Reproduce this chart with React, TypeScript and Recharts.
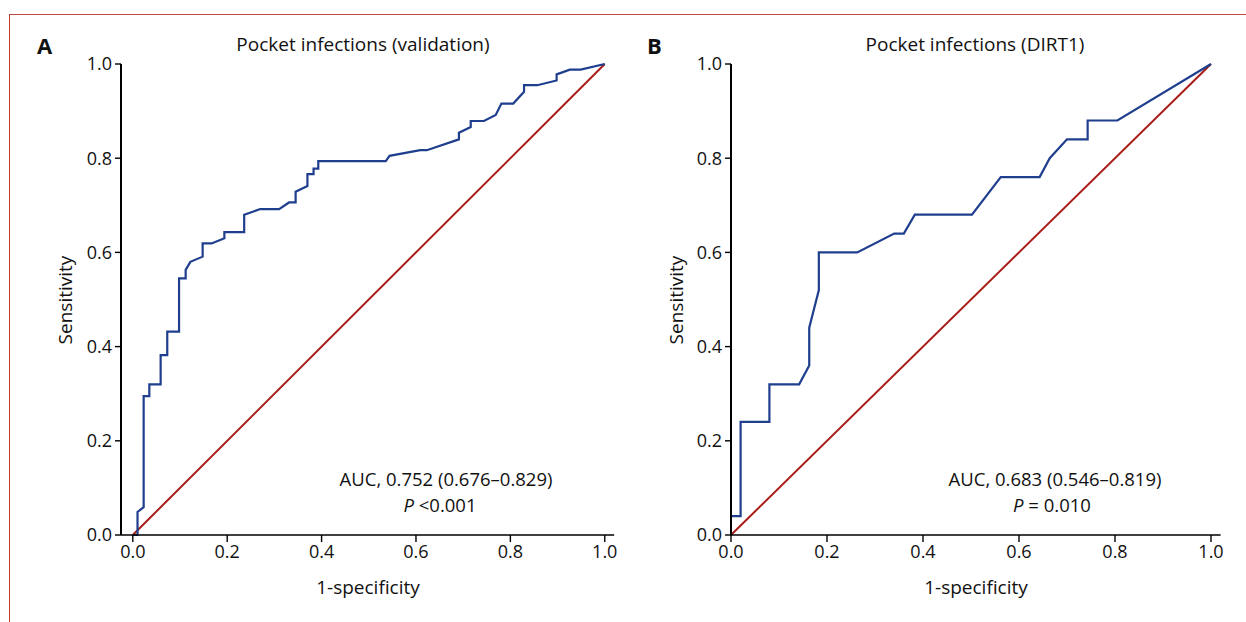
import React from 'react';
import { LineChart, Line, XAxis, YAxis } from 'recharts';

// Shared ticks
const TICKS = [0, 0.2, 0.4, 0.6, 0.8, 1.0];
const DIAG_X = [0, 1];
const DIAG_Y = [0, 1];

// Panel A: Pocket infections (validation)
const fprA = [0, 0.01, 0.01, 0.023, 0.023, 0.035, 0.035, 0.059, 0.059, 0.073, 0.073, 0.098, 0.098, 0.112, 0.112, 0.122, 0.148, 0.148, 0.167, 0.194, 0.194, 0.236, 0.236, 0.27, 0.31, 0.331, 0.345, 0.345, 0.37, 0.37, 0.383, 0.383, 0.393, 0.393, 0.536, 0.544, 0.609, 0.623, 0.691, 0.691, 0.716, 0.716, 0.744, 0.769, 0.781, 0.806, 0.829, 0.829, 0.857, 0.898, 0.898, 0.926, 0.949, 1];
const tprA = [0, 0, 0.049, 0.059, 0.295, 0.295, 0.32, 0.32, 0.382, 0.382, 0.432, 0.432, 0.545, 0.545, 0.563, 0.58, 0.591, 0.619, 0.619, 0.63, 0.643, 0.643, 0.68, 0.692, 0.692, 0.706, 0.706, 0.729, 0.741, 0.766, 0.766, 0.778, 0.778, 0.794, 0.794, 0.805, 0.817, 0.817, 0.84, 0.854, 0.866, 0.879, 0.879, 0.892, 0.916, 0.916, 0.941, 0.955, 0.955, 0.965, 0.978, 0.988, 0.988, 1];

// Panel B: Pocket infections (DIRT1)
const fprB = [0, 0.02, 0.02, 0.08, 0.08, 0.142, 0.163, 0.163, 0.183, 0.183, 0.263, 0.34, 0.36, 0.383, 0.502, 0.562, 0.643, 0.664, 0.7, 0.743, 0.743, 0.805, 1];
const tprB = [0.04, 0.04, 0.24, 0.24, 0.32, 0.32, 0.36, 0.44, 0.52, 0.6, 0.6, 0.64, 0.64, 0.68, 0.68, 0.76, 0.76, 0.8, 0.84, 0.84, 0.88, 0.88, 1];

const toRows = (xs: number[], ys: number[]) => xs.map((x, i) => ({ x, y: ys[i] }));
const rowsA = toRows(fprA, tprA);
const rowsB = toRows(fprB, tprB);
const diag = toRows(DIAG_X, DIAG_Y);

const FONT = '"Open Sans", "Noto Sans", sans-serif';
const BLUE = '#1f3f8e';
const RED = '#a91d18';

const T = ({ x, y, children, size = 18, weight = 400, rotate = 0, anchor = 'center' }: any) => (
  <div
    style={{
      position: 'absolute',
      left: x,
      top: y,
      transform: `translate(${anchor === 'center' ? '-50%' : '0'}, -50%) rotate(${rotate}deg)`,
      whiteSpace: 'nowrap',
      fontFamily: FONT,
      fontSize: size,
      fontWeight: weight,
      color: '#111',
      lineHeight: 1,
    }}
  >
    {children}
  </div>
);

const Panel = ({ left, width, plotLeft, plotRight, domain, rows }: any) => (
  <LineChart
    width={width}
    height={622}
    margin={{ top: 64, left: plotLeft - 60, right: width - plotRight, bottom: 622 - 535 - 30 }}
    style={{ position: 'absolute', left, top: 0 }}
  >
    <XAxis
      type="number"
      dataKey="x"
      domain={domain}
      ticks={TICKS}
      interval={0}
      allowDataOverflow
      height={30}
      tickSize={7}
      tickMargin={3}
      tickFormatter={(v: number) => v.toFixed(1)}
      axisLine={{ stroke: '#000', strokeWidth: 1.6 }}
      tickLine={{ stroke: '#000', strokeWidth: 1.4 }}
      tick={{ fill: '#111', fontSize: 18, fontFamily: FONT }}
    />
    <YAxis
      type="number"
      dataKey="y"
      domain={[0, 1]}
      ticks={TICKS}
      interval={0}
      width={60}
      tickSize={6}
      tickMargin={3}
      tickFormatter={(v: number) => v.toFixed(1)}
      axisLine={{ stroke: '#000', strokeWidth: 2 }}
      tickLine={{ stroke: '#000', strokeWidth: 1.4 }}
      tick={{ fill: '#111', fontSize: 18, fontFamily: FONT }}
    />
    <Line data={diag} dataKey="y" type="linear" stroke={RED} strokeWidth={2} dot={false} activeDot={false} isAnimationActive={false} />
    <Line data={rows} dataKey="y" type="linear" stroke={BLUE} strokeWidth={2.2} dot={false} activeDot={false} isAnimationActive={false} />
  </LineChart>
);

export default function App() {
  return (
    <div style={{ position: 'fixed', left: 0, top: 0, width: 1246, height: 622, background: '#fff', overflow: 'hidden' }}>
      <div
        style={{
          position: 'absolute',
          left: 8.5,
          top: 13.5,
          width: 1300,
          height: 700,
          borderTop: '1.5px solid #bd4a44',
          borderLeft: '1.5px solid #c0392b',
        }}
      />
      <Panel left={0} width={640} plotLeft={121} plotRight={614.2} domain={[-0.025, 1.02]} rows={rowsA} />
      <Panel left={620} width={626} plotLeft={111} plotRight={600.6} domain={[0, 1.02]} rows={rowsB} />

      <T x={37} y={45} size={22} weight={700} anchor="left">A</T>
      <T x={363} y={44} size={19}>Pocket infections (validation)</T>
      <T x={65} y={300} rotate={-90} size={19}>Sensitivity</T>
      <T x={368} y={587} size={19}>1-specificity</T>
      <T x={446} y={479} size={18.5}>AUC, 0.752 (0.676–0.829)</T>
      <T x={440} y={505} size={18.5}><i>P</i> &lt;0.001</T>

      <T x={647} y={45} size={22} weight={700} anchor="left">B</T>
      <T x={975} y={44} size={19}>Pocket infections (DIRT1)</T>
      <T x={676} y={300} rotate={-90} size={19}>Sensitivity</T>
      <T x={976} y={587} size={19}>1-specificity</T>
      <T x={1055} y={479} size={18.5}>AUC, 0.683 (0.546–0.819)</T>
      <T x={1052} y={505} size={18.5}><i>P</i> = 0.010</T>
    </div>
  );
}
